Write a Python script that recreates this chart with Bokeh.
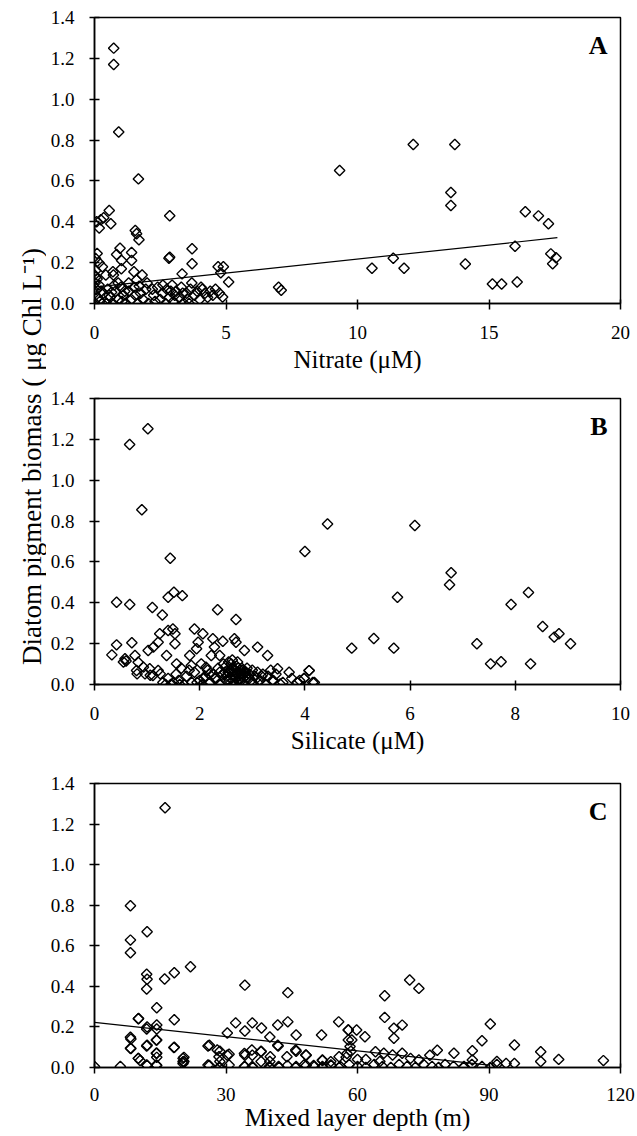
from bokeh.plotting import figure
from bokeh.models import Range1d, Label, FixedTicker, NumeralTickFormatter
from bokeh.layouts import row, column
from bokeh.embed import file_html
from bokeh.resources import INLINE

# ---------------- data ----------------
nitrate = [0.73, 0.73, 0.92, 1.67, 2.86, 0.56, 0.62, 0.24, 0.18, 0.08, 0.35,
           1.55, 1.6, 1.69, 0.97, 0.84, 1.03, 1.41, 1.41, 2.86, 2.83, 3.71, 3.71, 3.33,
           0.7, 0.72, 1.02, 1.5, 1.81, 1.6, 4.7, 4.9, 4.8, 5.1, 4.87, 7.0, 7.1,
           0.1, 0.04, 0.17, 0.3, 0.43, 0.04, 0.1, 0.17, 0.0, 0.05, 0.02, 0.08, 0.0, 0.12,
           0.2, 0.03, 0.25, 0.35, 0.3,
           9.32, 12.12, 13.7, 13.55, 13.55, 16.38, 16.88, 17.26, 15.99, 17.35, 17.55, 17.42,
           11.36, 10.55, 11.77, 14.1, 15.13, 15.48, 16.07,
           0.5, 0.6, 0.7, 0.8, 0.9, 1.0, 1.1, 1.2, 1.3, 1.4, 1.5, 1.55, 1.65, 1.75, 1.85,
           1.95, 2.05, 2.25, 2.4, 2.5, 2.6, 2.7, 2.75, 2.85, 2.95, 3.0, 3.1, 3.2, 3.3, 3.4,
           3.5, 3.55, 3.65, 3.7, 3.8, 3.9, 4.0, 4.1, 4.2, 4.3, 4.4, 4.5, 4.6, 4.75, 0.45,
           0.9, 1.3, 2.2, 2.6, 3.05, 0.55, 1.05, 2.3, 3.6, 4.05, 2.0, 1.7, 2.9, 3.35, 0.75,
           1.15, 0.65]
nitrate_biomass = [1.25, 1.17, 0.84, 0.61, 0.43, 0.455, 0.39, 0.41, 0.37, 0.40, 0.42,
                   0.357, 0.341, 0.312, 0.27, 0.24, 0.21, 0.25, 0.21, 0.227, 0.222, 0.268, 0.195, 0.145,
                   0.155, 0.14, 0.17, 0.155, 0.14, 0.115, 0.18, 0.18, 0.15, 0.105, 0.032, 0.08, 0.065,
                   0.245, 0.22, 0.2, 0.18, 0.14, 0.16, 0.12, 0.09, 0.14, 0.13, 0.1, 0.07, 0.05, 0.03,
                   0.01, 0.0, 0.06, 0.05, 0.0,
                   0.651, 0.778, 0.778, 0.543, 0.48, 0.449, 0.429, 0.39, 0.28, 0.243, 0.224, 0.194,
                   0.222, 0.173, 0.173, 0.193, 0.095, 0.095, 0.105,
                   0.07, 0.03, 0.0, 0.06, 0.02, 0.08, 0.04, 0.0, 0.06, 0.02, 0.08, 0.04, 0.0, 0.05, 0.02,
                   0.07, 0.0, 0.04, 0.08, 0.02, 0.05, 0.0, 0.07, 0.03, 0.09, 0.01, 0.06, 0.03, 0.08, 0.0,
                   0.05, 0.02, 0.07, 0.1, 0.04, 0.06, 0.02, 0.07, 0.05, 0.03, 0.06, 0.04, 0.07, 0.05, 0.0,
                   0.1, 0.1, 0.07, 0.09, 0.04, 0.04, 0.01, 0.01, 0.0, 0.08, 0.1, 0.085, 0.06, 0.05, 0.09,
                   0.06, 0.055]
nitrate_fit_x = [0.0, 17.6]
nitrate_fit_y = [0.08, 0.322]

silicate = [1.015, 0.668, 0.90, 1.44, 0.42, 0.67, 1.10, 1.29, 1.40, 1.51, 1.67, 2.34, 2.69,
            4.0, 4.43, 6.09, 6.78, 6.75, 5.76, 5.31, 4.89, 5.69, 7.27, 7.53, 7.73, 8.29, 7.92,
            8.25, 8.52, 8.74, 8.83, 9.05, 4.08, 3.98, 4.15,
            0.42, 0.33, 0.58, 0.55, 0.71, 0.77, 0.83, 0.93, 0.80, 0.96, 1.05, 1.21, 1.11, 1.02,
            1.12, 1.21, 1.24, 1.40, 1.49, 1.53, 1.37, 1.53, 1.56, 1.90, 2.06, 1.97, 1.94, 1.81,
            2.25, 2.44, 2.28, 2.38, 2.22, 2.66, 2.69, 2.85, 3.10, 3.29, 1.84, 2.03, 2.12, 3.48,
            3.70, 4.08, 3.99, 4.18, 3.53, 3.90, 0.60, 0.81, 1.06, 1.25,
            1.3, 1.4, 1.45, 1.55, 1.6, 1.7, 1.75, 1.85, 1.9, 2.0, 2.05, 2.1, 2.15, 2.2, 2.25,
            2.3, 2.35, 2.4, 2.45, 2.5, 2.5, 2.55, 2.6, 2.6, 2.65, 2.65, 2.7, 2.7, 2.75, 2.75,
            2.8, 2.8, 2.85, 2.85, 2.9, 2.9, 2.95, 3.0, 3.0, 3.05, 3.1, 3.15, 3.2, 3.25, 3.3,
            3.35, 3.4, 3.45, 2.55, 2.62, 2.72, 2.45, 1.65, 1.8,
            2.52, 2.58, 2.63, 2.68, 2.73, 2.78, 2.83, 2.88, 2.56, 2.61, 2.66, 2.71, 2.76, 2.81,
            2.86, 2.54, 2.64, 2.74, 2.84, 2.94, 2.48, 2.98, 3.08, 3.18, 2.38, 2.28, 2.18, 1.5,
            1.35, 1.62, 1.95, 2.08, 3.38, 3.58, 3.75, 3.85]
silicate_biomass = [1.252, 1.175, 0.855, 0.618, 0.403, 0.392, 0.377, 0.34, 0.427, 0.452, 0.435, 0.366, 0.318,
                    0.651, 0.786, 0.778, 0.547, 0.488, 0.427, 0.225, 0.178, 0.178, 0.199, 0.101, 0.111, 0.101, 0.392,
                    0.45, 0.284, 0.232, 0.248, 0.199, 0.068, 0.03, 0.01,
                    0.194, 0.145, 0.126, 0.11, 0.204, 0.142, 0.109, 0.085, 0.069, 0.052, 0.077, 0.069, 0.044, 0.166,
                    0.183, 0.207, 0.248, 0.264, 0.272, 0.248, 0.142, 0.199, 0.101, 0.272, 0.248, 0.207, 0.175, 0.142,
                    0.224, 0.212, 0.183, 0.142, 0.142, 0.224, 0.207, 0.166, 0.183, 0.142, 0.093, 0.101, 0.085, 0.077,
                    0.06, 0.068, 0.03, 0.01, 0.003, 0.02, 0.115, 0.052, 0.045, 0.052,
                    0.01, 0.03, 0.0, 0.05, 0.02, 0.0, 0.04, 0.01, 0.06, 0.02, 0.0, 0.04, 0.07, 0.01, 0.05,
                    0.03, 0.08, 0.0, 0.05, 0.02, 0.09, 0.06, 0.03, 0.1, 0.07, 0.0, 0.05, 0.09, 0.02, 0.06,
                    0.08, 0.04, 0.0, 0.06, 0.03, 0.08, 0.05, 0.01, 0.07, 0.04, 0.06, 0.02, 0.05, 0.0, 0.04,
                    0.07, 0.02, 0.05, 0.11, 0.12, 0.11, 0.1, 0.08, 0.07,
                    0.04, 0.07, 0.05, 0.03, 0.08, 0.05, 0.03, 0.06, 0.02, 0.08, 0.04, 0.06, 0.03, 0.07,
                    0.04, 0.06, 0.02, 0.04, 0.05, 0.03, 0.06, 0.02, 0.03, 0.04, 0.06, 0.03, 0.05, 0.01,
                    0.0, 0.0, 0.01, 0.03, 0.02, 0.01, 0.03, 0.01]

mld = [0.0, 5.9, 16.1, 8.2, 8.2, 8.2, 12.0, 11.9, 12.0, 11.9, 16.0, 18.2, 21.9, 14.2, 34.3,
       44.1, 10.05, 18.2, 12.0, 14.2, 14.2, 8.2, 8.2, 12.0, 14.2, 14.2, 14.2, 14.2, 10.0, 10.4,
       12.0, 18.2, 20.4, 20.4, 26.2, 26.2, 28.6, 28.6, 28.6, 30.3, 30.3, 32.2, 34.3, 34.3, 34.3,
       36.0, 36.0, 36.0, 38.1, 38.0, 38.0, 40.0, 40.0, 40.0, 41.8, 41.8, 42.0, 44.1, 44.0, 46.0,
       46.0, 46.0, 48.3, 48.3, 50.0, 51.8, 52.0, 52.0, 54.0, 55.7,
       71.9, 74.0, 66.2, 66.2, 68.3, 70.2, 68.3, 57.9, 59.8, 61.7, 57.9, 90.3, 88.4, 86.2, 95.8,
       101.8, 105.9, 116.1, 101.8, 95.8, 93.9, 91.8, 78.2, 76.5,
       66.0, 64.1, 68.0, 70.2, 72.1, 74.0, 82.0, 86.2, 84.3,
       55.8, 58.1, 60.0, 61.9, 63.8, 65.7, 67.6, 69.5, 71.3, 73.2, 75.1, 77.0, 78.5, 80.0, 81.9,
       84.2, 86.1, 88.4, 90.3, 91.8, 57.4, 58.5, 60.0, 61.9, 65.1,
       25.9, 28.0, 28.4, 30.7, 25.9, 28.4, 30.7, 34.2, 35.9, 38.0, 40.1, 41.9, 43.9, 45.9, 48.2,
       50.1, 52.0, 53.9, 55.8, 57.6, 57.9, 58.7, 58.3,
       11.9, 14.1, 20.2, 34.2, 36.1, 39.9, 42.1, 45.9, 47.8, 52.0, 53.9, 56.1,
       10.0, 11.9, 14.1, 14.1, 18.1, 20.2, 20.2, 8.3, 8.3, 10.0, 11.9]
mld_biomass = [0.005, 0.005, 1.28, 0.797, 0.628, 0.566, 0.669, 0.46, 0.435, 0.387, 0.436, 0.467, 0.497, 0.295, 0.406,
               0.369, 0.242, 0.235, 0.2, 0.21, 0.19, 0.149, 0.095, 0.11, 0.135, 0.07, 0.05, 0.01, 0.045, 0.035,
               0.01, 0.1, 0.05, 0.03, 0.11, 0.01, 0.08, 0.03, 0.0, 0.17, 0.06, 0.22, 0.18, 0.06, 0.005,
               0.22, 0.06, 0.005, 0.195, 0.08, 0.03, 0.15, 0.03, 0.0, 0.11, 0.21, 0.005, 0.225, 0.01, 0.16,
               0.08, 0.005, 0.06, 0.01, 0.01, 0.16, 0.035, 0.005, 0.01, 0.225,
               0.431, 0.39, 0.354, 0.247, 0.193, 0.209, 0.144, 0.185, 0.185, 0.152, 0.136, 0.214, 0.132, 0.083, 0.111,
               0.078, 0.04, 0.034, 0.03, 0.02, 0.02, 0.03, 0.085, 0.06,
               0.07, 0.078, 0.062, 0.07, 0.045, 0.037, 0.07, 0.037, 0.005,
               0.0, 0.015, 0.005, 0.0, 0.015, 0.005, 0.0, 0.015, 0.005, 0.0, 0.015, 0.005, 0.0, 0.015, 0.005,
               0.0, 0.015, 0.005, 0.0, 0.015, 0.05, 0.08, 0.04, 0.04, 0.03,
               0.106, 0.086, 0.053, 0.065, 0.012, 0.0, 0.012, 0.069, 0.086, 0.078, 0.053, 0.106, 0.053, 0.086, 0.062,
               0.004, 0.037, 0.029, 0.053, 0.069, 0.185, 0.136, 0.103,
               0.012, 0.012, 0.02, 0.005, 0.0, 0.005, 0.0, 0.0, 0.012, 0.0, 0.012, 0.005,
               0.045, 0.106, 0.136, 0.07, 0.098, 0.045, 0.029, 0.14, 0.094, 0.24, 0.19]
mld_fit_x = [0.0, 90.0]
mld_fit_y = [0.222, 0.012]

y_ticks = [0.0, 0.2, 0.4, 0.6, 0.8, 1.0, 1.2, 1.4]
nitrate_ticks = [0, 5, 10, 15, 20]
silicate_ticks = [0, 2, 4, 6, 8, 10]
mld_ticks = [0, 30, 60, 90, 120]

SERIF = "Liberation Serif"
LABEL_W = 46
PANEL_W = 590
TOTAL_H = 1135
BORDER_L = 48
BORDER_R = 16


def make_panel(xs, ys, xmax, xticks, xlabel, letter, height, top, bottom, frame_h,
               label_standoff, title_standoff, fit_x=None, fit_y=None):
    p = figure(width=PANEL_W, height=height,
               x_range=Range1d(0, xmax), y_range=Range1d(0, 1.4),
               output_backend="svg", toolbar_location=None,
               min_border_left=BORDER_L, min_border_right=BORDER_R,
               min_border_top=top, min_border_bottom=bottom)
    p.grid.visible = False
    p.background_fill_color = "white"
    p.border_fill_color = "white"
    p.outline_line_color = "black"
    p.outline_line_width = 1.5
    p.outline_line_alpha = 1.0

    p.scatter(xs, ys, marker="square", angle=0.785398, size=7.4,
              fill_color=None, line_color="black", line_width=1.4)
    if fit_x is not None:
        p.line(fit_x, fit_y, line_color="black", line_width=1.2)

    for ax in (p.xaxis[0], p.yaxis[0]):
        ax.axis_line_color = "black"
        ax.axis_line_width = 1.5
        ax.major_tick_line_color = "black"
        ax.major_tick_line_width = 1.5
        ax.minor_tick_line_color = None
        ax.major_label_text_font = SERIF
        ax.major_label_text_font_size = "19px"
        ax.major_label_text_color = "black"

    p.xaxis.ticker = FixedTicker(ticks=xticks)
    p.xaxis.major_tick_in = 4
    p.xaxis.major_tick_out = 6
    p.xaxis.major_label_standoff = label_standoff
    p.xaxis.axis_label = xlabel
    p.xaxis.axis_label_text_font = SERIF
    p.xaxis.axis_label_text_font_size = "25px"
    p.xaxis.axis_label_text_font_style = "normal"
    p.xaxis.axis_label_text_color = "black"
    p.xaxis.axis_label_standoff = title_standoff

    p.yaxis.ticker = FixedTicker(ticks=y_ticks)
    p.yaxis.formatter = NumeralTickFormatter(format="0.0")
    p.yaxis.major_tick_in = 5
    p.yaxis.major_tick_out = 5
    p.yaxis.major_label_standoff = 15

    frame_w = PANEL_W - BORDER_L - BORDER_R
    lx = xmax * (1 - 13.0 / frame_w)
    ly = 1.4 - 28.0 * 1.4 / frame_h
    p.add_layout(Label(x=lx, y=ly, text=letter, text_align="right",
                       text_baseline="middle", text_font=SERIF,
                       text_font_size="26px", text_font_style="bold",
                       text_color="black"))
    return p


pA = make_panel(nitrate, nitrate_biomass, 20, nitrate_ticks, "Nitrate (\u03bcM)", "A",
                height=376, top=17, bottom=73, frame_h=286,
                label_standoff=16, title_standoff=4,
                fit_x=nitrate_fit_x, fit_y=nitrate_fit_y)
pB = make_panel(silicate, silicate_biomass, 10, silicate_ticks, "Silicate (\u03bcM)", "B",
                height=381, top=22, bottom=73, frame_h=286,
                label_standoff=16, title_standoff=4)
pC = make_panel(mld, mld_biomass, 120, mld_ticks, "Mixed layer depth (m)", "C",
                height=378, top=26, bottom=68, frame_h=284,
                label_standoff=14, title_standoff=0,
                fit_x=mld_fit_x, fit_y=mld_fit_y)

lab = figure(width=LABEL_W, height=TOTAL_H,
             x_range=Range1d(0, LABEL_W), y_range=Range1d(0, TOTAL_H),
             x_axis_location=None, y_axis_location=None,
             min_border_left=0, min_border_right=0, min_border_top=0, min_border_bottom=0,
             output_backend="svg", toolbar_location=None)
lab.outline_line_color = None
lab.grid.visible = False
lab.add_layout(Label(x=31, y=TOTAL_H - 456,
                     text="Diatom pigment biomass ( \u03bcg Chl L\u207b\u00b9)",
                     angle=90, angle_units="deg", text_align="center",
                     text_baseline="middle", text_font=SERIF,
                     text_font_size="27px", text_color="black"))

layout = row(lab, column(pA, pB, pC))

with open("out.html", "w") as f:
    f.write(file_html(layout, INLINE))
